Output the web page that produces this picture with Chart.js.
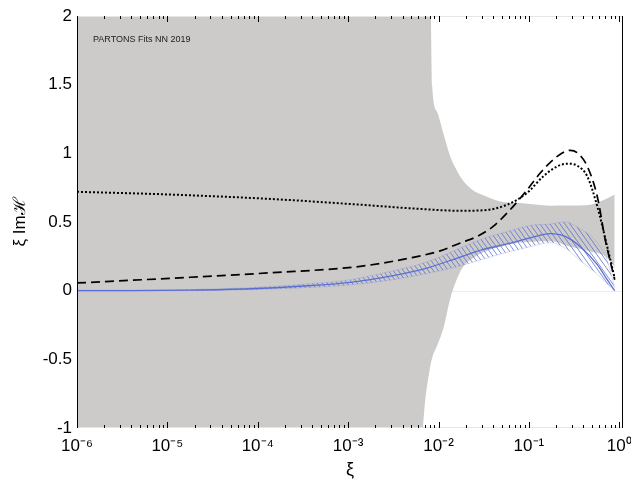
<!DOCTYPE html>
<html><head><meta charset="utf-8">
<script src="https://cdn.jsdelivr.net/npm/chart.js@4.4.1/dist/chart.umd.min.js"></script>
<style>html,body{margin:0;padding:0;background:#fff}canvas{display:block}</style>
</head><body>
<canvas id="c" width="631" height="484"></canvas>
<script>
// ---- tick labels ----
const decadeValues = [1e-6, 1e-5, 1e-4, 1e-3, 1e-2, 1e-1, 1];
const decadeLabels = ['10⁻⁶', '10⁻⁵', '10⁻⁴', '10⁻³', '10⁻²', '10⁻¹', '10⁰'];
const yTickValues = [-1, -0.5, 0, 0.5, 1, 1.5, 2];
const annotationText = 'PARTONS Fits NN 2019';

// ---- grey uncertainty band ----
const xiGray    = [1e-6, 0.0063, 0.00713, 0.0081, 0.00851, 0.00967, 0.01127, 0.01346, 0.0161, 0.01875, 0.0242, 0.0313, 0.0482, 0.0802, 0.172, 0.287, 0.478, 0.70, 0.89];
const grayUpper = [3, 3, 3, 2.3, 1.49, 1.30, 1.149, 0.978, 0.87, 0.80, 0.73, 0.695, 0.65, 0.638, 0.619, 0.62, 0.626, 0.665, 0.70];
const grayLower = [-1.5, -1.15, -0.80, -0.553, -0.49, -0.40, -0.28, -0.06, 0.09, 0.175, 0.238, 0.28, 0.32, 0.35, 0.36, 0.32, 0.285, 0.25, 0.17];

// ---- blue hatched band and central curve ----
const xiBand     = [1e-6, 3.86e-6, 1.78e-5, 8.2e-5, 2.94e-4, 1.05e-3, 3.15e-3, 7.5e-3, 0.01738, 0.0313, 0.0575, 0.1035, 0.172, 0.252, 0.370, 0.571, 0.736, 0.89];
const bandCenter = [0.0, 0.0, 0.004, 0.014, 0.032, 0.06, 0.11, 0.165, 0.245, 0.30, 0.34, 0.385, 0.415, 0.395, 0.32, 0.19, 0.08, 0.0];
const bandUpper  = [0.004, 0.004, 0.008, 0.022, 0.045, 0.08, 0.145, 0.21, 0.31, 0.38, 0.43, 0.475, 0.485, 0.50, 0.45, 0.35, 0.22, 0.02];
const bandLower  = [-0.003, -0.003, 0.0, 0.007, 0.02, 0.042, 0.08, 0.125, 0.18, 0.23, 0.28, 0.32, 0.35, 0.31, 0.22, 0.12, 0.05, 0.0];

// ---- dashed curve ----
const xiDashed     = [1e-6, 1.07e-5, 1.37e-4, 1.36e-3, 4.85e-3, 0.01045, 0.01738, 0.0268, 0.0403, 0.0622, 0.0959, 0.1337, 0.206, 0.287, 0.35, 0.443, 0.571, 0.70, 0.89];
const dashedValues = [0.056, 0.09, 0.13, 0.177, 0.238, 0.29, 0.347, 0.395, 0.468, 0.59, 0.735, 0.857, 0.978, 1.022, 1.0, 0.905, 0.686, 0.371, 0.08];

// ---- dotted curve ----
const xiDotted     = [1e-6, 1.07e-5, 1.37e-4, 1.36e-3, 6.27e-3, 0.01738, 0.0313, 0.0575, 0.0959, 0.144, 0.206, 0.266, 0.343, 0.443, 0.571, 0.736, 0.89];
const dottedValues = [0.72, 0.70, 0.668, 0.626, 0.595, 0.582, 0.585, 0.626, 0.713, 0.832, 0.905, 0.925, 0.91, 0.832, 0.614, 0.32, 0.09];

const pts = (xs, ys) => xs.map((x, i) => ({x: x, y: ys[i]}));
const FONT = "'Liberation Sans', Arial, Helvetica, sans-serif";

function makeHatch() {
  const w = 5, h = 7;
  const c = document.createElement('canvas'); c.width = w; c.height = h;
  const g = c.getContext('2d');
  g.strokeStyle = 'rgba(88,108,205,0.85)';
  g.lineWidth = 0.9;
  g.beginPath();
  for (const o of [-w, 0, w]) { g.moveTo(o - 1, -1.4); g.lineTo(o + w + 1, h + 1.4); }
  g.stroke();
  return g.createPattern(c, 'repeat');
}

const deco = {
  id: 'deco',
  beforeDatasetsDraw(chart) {
    const {ctx, chartArea: a, scales: {y}} = chart;
    const y0 = Math.round(y.getPixelForValue(0)) + 0.5;
    ctx.save();
    ctx.strokeStyle = 'rgba(236,236,236,1)';
    ctx.lineWidth = 1;
    ctx.beginPath(); ctx.moveTo(a.left, y0); ctx.lineTo(a.right, y0); ctx.stroke();
    ctx.restore();
  },
  afterDraw(chart) {
    const {ctx, chartArea: a, scales: {x}} = chart;
    ctx.save();
    // faint top/bottom frame
    ctx.strokeStyle = '#e6e6e6'; ctx.lineWidth = 1;
    ctx.beginPath();
    ctx.moveTo(a.left, a.top + 0.5); ctx.lineTo(a.right, a.top + 0.5);
    ctx.moveTo(a.left, a.bottom - 0.5); ctx.lineTo(a.right, a.bottom - 0.5);
    ctx.stroke();
    // inward x tick marks on bottom and top
    ctx.strokeStyle = '#000'; ctx.lineWidth = 1;
    ctx.beginPath();
    for (let e = -6; e <= 0; e++) {
      for (let k = 1; k <= 9; k++) {
        const v = k * Math.pow(10, e);
        if (v > x.max) break;
        const px = Math.round(x.getPixelForValue(v)) + 0.5;
        const len = k === 1 ? 6 : 3;
        ctx.moveTo(px, a.bottom); ctx.lineTo(px, a.bottom - len);
        ctx.moveTo(px, a.top); ctx.lineTo(px, a.top + len);
      }
    }
    ctx.stroke();
    // left and right frame lines
    ctx.beginPath();
    ctx.moveTo(a.left + 0.5, a.top); ctx.lineTo(a.left + 0.5, a.bottom);
    ctx.moveTo(a.right - 0.5, a.top); ctx.lineTo(a.right - 0.5, a.bottom);
    ctx.stroke();
    // annotation
    ctx.fillStyle = '#222';
    ctx.font = '9px ' + FONT;
    ctx.textBaseline = 'middle';
    ctx.textAlign = 'left';
    ctx.fillText(annotationText, a.left + 16, a.top + 24);
    ctx.restore();
  }
};

const line = (extra) => Object.assign({
  pointRadius: 0, pointHoverRadius: 0, fill: false,
  cubicInterpolationMode: 'monotone', borderWidth: 0
}, extra);

new Chart(document.getElementById('c'), {
  type: 'line',
  data: {
    datasets: [
      line({label: 'dotted', data: pts(xiDotted, dottedValues), borderColor: '#000', borderWidth: 2, borderDash: [2, 2]}),
      line({label: 'dashed', data: pts(xiDashed, dashedValues), borderColor: '#000', borderWidth: 1.7, borderDash: [9, 5]}),
      line({label: 'central', data: pts(xiBand, bandCenter), borderColor: '#5b6fd0', borderWidth: 1.3}),
      line({label: 'band upper', data: pts(xiBand, bandUpper), borderColor: 'rgba(120,140,220,0.35)', borderWidth: 0.8, fill: 4, backgroundColor: makeHatch()}),
      line({label: 'band lower', data: pts(xiBand, bandLower), borderColor: 'rgba(120,140,220,0.35)', borderWidth: 0.8}),
      line({label: 'grey upper', data: pts(xiGray, grayUpper), fill: 6, backgroundColor: 'rgb(204,203,202)'}),
      line({label: 'grey lower', data: pts(xiGray, grayLower)})
    ]
  },
  options: {
    responsive: false,
    animation: false,
    devicePixelRatio: 1,
    layout: {padding: {left: 0, right: 8, top: 16, bottom: 0}},
    plugins: {legend: {display: false}, tooltip: {enabled: false}},
    scales: {
      x: {
        type: 'logarithmic', min: 1e-6, max: 1.1,
        grid: {display: false, drawTicks: false},
        border: {display: false},
        ticks: {
          autoSkip: false, maxRotation: 0, padding: 8, color: '#000',
          font: {family: FONT, size: 17},
          callback: (v) => {
            const i = decadeValues.findIndex(d => Math.abs(d - v) / d < 1e-6);
            return i >= 0 ? decadeLabels[i] : '';
          }
        },
        title: {display: true, text: 'ξ', color: '#000', font: {family: FONT, size: 18}, padding: {top: 0, bottom: 3}},
        afterFit: (s) => { s.height = 56; s.paddingLeft = 0; s.paddingRight = 0; }
      },
      y: {
        min: -1, max: 2,
        grid: {display: false, drawTicks: false},
        border: {display: false},
        afterBuildTicks: (s) => { s.ticks = yTickValues.map(v => ({value: v})); },
        ticks: {
          padding: 5, color: '#000',
          font: {family: FONT, size: 17},
          callback: (v) => String(v)
        },
        title: {display: true, text: 'ξ Imℋ', color: '#000', font: {family: FONT, size: 17}, padding: {top: 10, bottom: 0}},
        afterFit: (s) => { s.width = 77; s.paddingTop = 0; s.paddingBottom = 0; }
      }
    }
  },
  plugins: [deco]
});
</script>
</body></html>
